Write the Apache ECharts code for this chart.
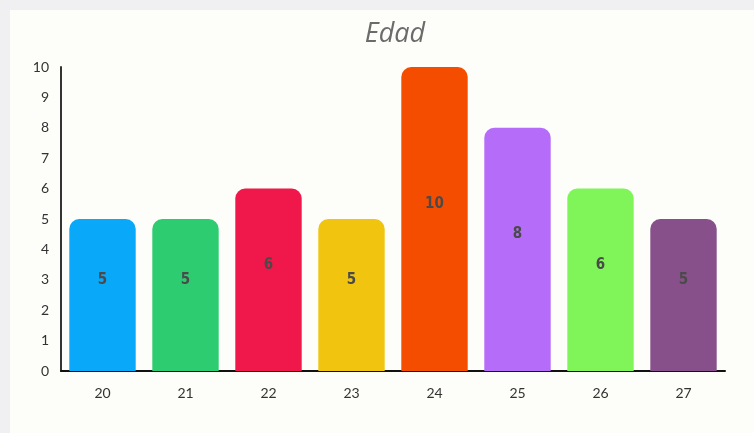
<!DOCTYPE html>
<html><head><meta charset="utf-8">
<script src="https://cdn.jsdelivr.net/npm/echarts@6/dist/echarts.min.js"></script>
<style>
html,body{margin:0;padding:0;background:#f0f0f2;width:754px;height:433px;overflow:hidden}
#panel{position:absolute;left:10px;top:10px;width:744px;height:423px;background:#fdfdf9}
#c{position:absolute;left:0;top:0;width:754px;height:433px}
</style></head>
<body><div id="panel"></div><div id="c"></div>
<script>
const title = 'Edad';
const categories = ['20','21','22','23','24','25','26','27'];
const values = [5,5,6,5,10,8,6,5];
const colors = ['#0aa8f8','#2ecc71','#f0184a','#f1c40f','#f54d00','#b56cf8','#80f55a','#87508a'];
const yTicks = [0,1,2,3,4,5,6,7,8,9,10];

const chart = echarts.init(document.getElementById('c'));
chart.setOption({
  backgroundColor:'transparent',
  title:{text:title,left:390,top:16,textAlign:'center',
    textStyle:{fontFamily:'Open Sans',fontStyle:'italic',fontWeight:'normal',fontSize:27,color:'#6b6b6b'}},
  grid:{left:61,right:29,top:67,bottom:62},
  xAxis:{type:'category',data:categories,
    axisLine:{lineStyle:{color:'#111',width:2}},
    axisTick:{show:false},
    axisLabel:{color:'#333',fontFamily:'Lato',fontSize:14,margin:15}},
  yAxis:{type:'value',min:yTicks[0],max:yTicks[yTicks.length-1],interval:1,
    axisLine:{show:true,lineStyle:{color:'#333',width:2}},
    axisTick:{show:false},
    splitLine:{show:false},
    axisLabel:{color:'#333',fontFamily:'Lato',fontSize:14,margin:12}},
  series:[{type:'bar',barWidth:'80%',
    data:values.map((v,i)=>({value:v,itemStyle:{color:colors[i],borderRadius:[10,10,0,0]}})),
    label:{show:true,position:'inside',offset:[0,-15],color:'#4a4a4a',
      fontFamily:'Liberation Sans Narrow, DejaVu Sans Condensed',fontWeight:'bold',fontSize:15},
    animation:false}]
});
</script></body></html>
